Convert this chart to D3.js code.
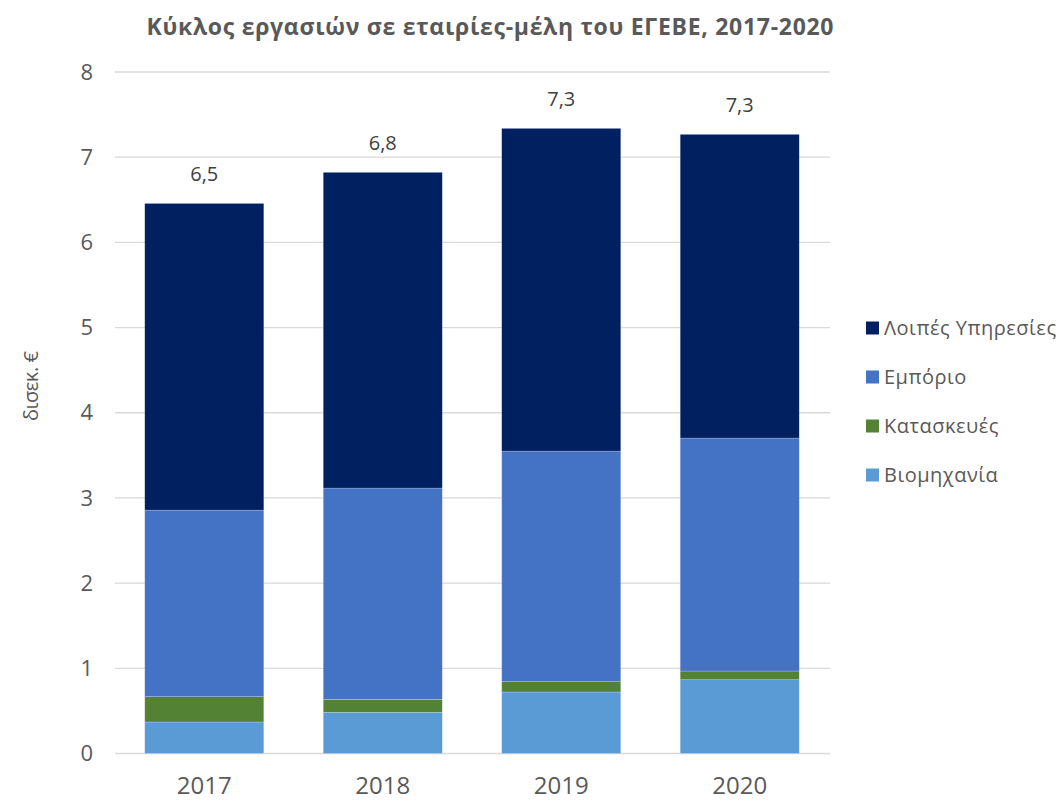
<!DOCTYPE html>
<html><head><meta charset="utf-8">
<script src="https://cdn.jsdelivr.net/npm/d3@7"></script>
<style>body{margin:0;background:#fff;} svg{display:block;font-family:"Open Sans","Noto Sans",sans-serif;}</style>
</head><body>
<svg id="c" width="1061" height="802"></svg>
<script>
const years = ["2017","2018","2019","2020"];
const seriesNames = ["Βιομηχανία","Κατασκευές","Εμπόριο","Λοιπές Υπηρεσίες"];
const industry = [0.37, 0.484, 0.722, 0.866];
const construction = [0.297, 0.152, 0.121, 0.102];
const commerce = [2.19, 2.48, 2.707, 2.735];
const otherServices = [3.60, 3.706, 3.788, 3.565];
const yTicks = [0,1,2,3,4,5,6,7,8];
const colors = ["#5B9BD5","#548235","#4472C4","#002060"];
const legendOrder = ["Λοιπές Υπηρεσίες","Εμπόριο","Κατασκευές","Βιομηχανία"];

const rows = years.map((y,i)=>({year:y, "Βιομηχανία":industry[i], "Κατασκευές":construction[i], "Εμπόριο":commerce[i], "Λοιπές Υπηρεσίες":otherServices[i]}));
const stacked = d3.stack().keys(seriesNames)(rows);
const color = d3.scaleOrdinal().domain(seriesNames).range(colors);

const svg = d3.select("#c");
const x = d3.scaleBand().domain(years).range([115,829]).paddingInner(0.333).paddingOuter(0.1667);
const y = d3.scaleLinear().domain([0,8]).range([753.5,72]);

// gridlines
svg.append("g").selectAll("line").data(yTicks).join("line")
  .attr("x1",115).attr("x2",830).attr("y1",d=>y(d)).attr("y2",d=>y(d))
  .attr("stroke","#d9d9d9").attr("stroke-width",1.3);

// y tick labels
svg.append("g").selectAll("text").data(yTicks).join("text")
  .attr("x",93).attr("y",d=>y(d)).attr("dy","0.35em").attr("text-anchor","end")
  .attr("font-size",22).attr("fill","#595959").text(d=>d);

// bars
svg.append("g").selectAll("g").data(stacked).join("g")
  .attr("fill",d=>color(d.key))
  .selectAll("rect").data(d=>d).join("rect")
  .attr("x",d=>x(d.data.year)).attr("width",x.bandwidth())
  .attr("y",d=>y(d[1])).attr("height",d=>y(d[0])-y(d[1]))
  .attr("stroke","#ffffff").attr("stroke-opacity",0.35).attr("stroke-width",0.6);

// totals
const fmt = v => d3.format(".1f")(v).replace(".",",");
svg.append("g").selectAll("text").data(rows).join("text")
  .attr("x",d=>x(d.year)+x.bandwidth()/2)
  .attr("y",d=>y(d3.sum(seriesNames,k=>d[k]))-29)
  .attr("text-anchor","middle").attr("dy","0.35em")
  .attr("font-size",20).attr("fill","#404040")
  .text(d=>fmt(d3.sum(seriesNames,k=>d[k])));

// x labels
svg.append("g").selectAll("text").data(years).join("text")
  .attr("x",d=>x(d)+x.bandwidth()/2).attr("y",786).attr("dy","0.35em")
  .attr("text-anchor","middle").attr("font-size",24).attr("fill","#595959").text(d=>d);

// y axis title
svg.append("text").attr("transform","translate(31,386) rotate(-90)")
  .attr("text-anchor","middle").attr("dy","0.35em").attr("font-size",20).attr("fill","#595959")
  .attr("textLength",70).attr("lengthAdjust","spacing").text("δισεκ. €");

// title
svg.append("text").attr("x",490).attr("y",27).attr("dy","0.35em").attr("text-anchor","middle")
  .attr("font-size",23).attr("font-weight","bold").attr("fill","#595959")
  .attr("textLength",687).attr("lengthAdjust","spacing")
  .text("Κύκλος εργασιών σε εταιρίες-μέλη του ΕΓΕΒΕ, 2017-2020");

// legend
const lg = svg.append("g").selectAll("g").data(legendOrder).join("g")
  .attr("transform",(d,i)=>`translate(866,${328+i*49})`);
lg.append("rect").attr("x",0).attr("y",-6.5).attr("width",13).attr("height",13).attr("fill",d=>color(d));
lg.append("text").attr("x",18).attr("dy","0.35em").attr("font-size",20).attr("letter-spacing",0.5)
  .attr("fill","#595959").text(d=>d);
</script>
</body></html>
